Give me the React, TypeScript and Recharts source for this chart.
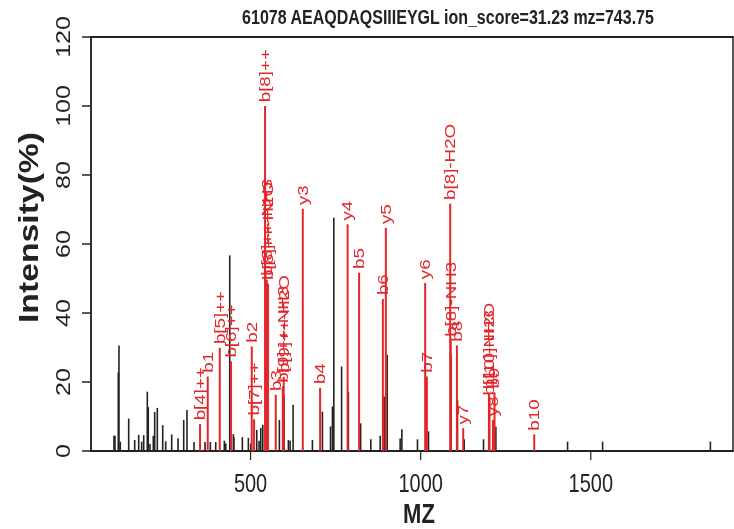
import React from "react";
import {
  ComposedChart,
  XAxis,
  YAxis,
  Scatter,
  ReferenceLine,
  ReferenceArea,
  Label,
} from "recharts";

const TITLE = "61078 AEAQDAQSIIIEYGL ion_score=31.23 mz=743.75";

const xTicks = [500, 1000, 1500];
const yTicks = [0, 20, 40, 60, 80, 100, 120];

// unmatched peaks (drawn black)
const otherMz = [
  98.5, 101.5, 111.2, 113.2, 117.1, 141.8, 159.4, 171.2, 180, 185.9, 196.5,
  199.4, 204.4, 214.1, 218.2, 225.9, 241.8, 250.6, 268.2, 286.8, 303.5, 313.2,
  333.8, 366.2, 381.8, 397.6, 422.9, 427.1, 438.8, 449.4, 451, 475.9, 493.5,
  500.6, 518.2, 525, 530, 535.9, 584.7, 598.5, 611.2, 616.2, 625, 681.8, 711.2,
  735, 740.6, 744.7, 767.6, 787.4, 823.5, 853.5, 880.9, 892.6, 901.5, 939.7,
  944.7, 990.6, 1023, 1089, 1108.2, 1128, 1184.7, 1221, 1431.8, 1534.7, 1851.5,
];
const otherIntensity = [
  4.4, 4.4, 22.8, 30.6, 2.7, 9.4, 3.2, 4.7, 2.7, 4.6, 17.2,
  12.7, 2, 4.4, 11.3, 12.5, 7.5, 2.8, 4.8, 3.7, 9, 11.9,
  2.6, 2.6, 2.6, 2.6, 3, 2.2, 56.7, 4.9, 4, 4, 3.8,
  2.2, 6.1, 3, 6.7, 7.6, 9, 15.8, 3.2, 3, 13.4, 3.2, 11.4,
  7.1, 12.9, 67.6, 24.5, 17.2, 8, 3.4, 4.4, 15.8, 27.9, 3.6,
  6.3, 3.4, 5.7, 27.9, 14.8, 3.4, 3.4, 7, 2.7, 2.7, 2.7,
];

// matched fragment ions (drawn red, labelled)
const ionLabels = [
  "b[4]++", "b1", "b[5]++", "b[6]++", "b2", "b[7]++", "b[8]++", "b[8]++-NH3",
  "b[8]++-H2O", "b3", "b[9]++-NH3", "b[9]++-H2O", "y3", "b4", "y4", "b5", "b6",
  "y5", "y6", "b7", "b[8]-H2O", "b[8]-NH3", "b8", "y7", "b[10]-H2O",
  "b[10]-NH3", "y8", "b9", "b10",
];
const ionMz = [
  351.5, 374.1, 409.4, 442.6, 503.5, 510.3, 542.6, 547.6,
  551.5, 574.1, 594.7, 597.5, 653.5, 704.4, 785.3, 819.1, 888.8,
  897.6, 1013.2, 1018.2, 1086.8, 1088.2, 1106.5, 1125, 1200.6,
  1202.4, 1212.4, 1217, 1333.8,
];
const ionIntensity = [
  7.8, 21.6, 29.9, 26, 30.3, 9.2, 100, 49.7,
  48.5, 16.3, 18.7, 21.5, 70.2, 18.3, 65.7, 51.7, 44.1,
  64.7, 48.7, 21.6, 71.7, 32, 30.6, 6.6, 16.8,
  15, 9, 17, 4.8,
];

const otherPeaks = otherMz.map((mz, i) => ({ mz, intensity: otherIntensity[i] }));
const ionPeaks = ionMz.map((mz, i) => ({
  mz,
  intensity: ionIntensity[i],
  label: ionLabels[i],
}));

const X_MIN = 31;
const X_MAX = 1918;
const STRETCH = 1.25;
const W = 734;
const H = 423;

const FONT = '"Liberation Sans", Arial, Helvetica, sans-serif';
const RED = "#e3262a";
const INK = "#222222";

function IonLabel(props: any) {
  const { cx, cy, payload } = props;
  if (cx == null || cy == null) return null;
  const y = cy - 3;
  return (
    <text
      x={cx}
      y={y}
      transform={`rotate(-90, ${cx}, ${y})`}
      textAnchor="start"
      dominantBaseline="central"
      fontSize={15}
      fontFamily={FONT}
      fill={RED}
    >
      {payload.label}
    </text>
  );
}

function XTick(props: any) {
  const { x, y, payload } = props;
  return (
    <text x={x} y={y + 23.5} textAnchor="middle" fontSize={20} fontFamily={FONT} fill={INK}>
      {payload.value}
    </text>
  );
}

function YTick(props: any) {
  const { x, y, payload } = props;
  const bx = x - 10;
  return (
    <text
      x={bx}
      y={y}
      transform={`rotate(-90, ${bx}, ${y})`}
      textAnchor="middle"
      fontSize={20}
      fontFamily={FONT}
      fill={INK}
    >
      {payload.value}
    </text>
  );
}

export default function App() {
  return (
    <div
      style={{
        position: "absolute",
        left: 0,
        top: 0,
        width: W,
        height: 529,
        overflow: "hidden",
        background: "#fff",
      }}
    >
      <div
        style={{
          position: "relative",
          width: W,
          height: H,
          transform: `scaleY(${STRETCH})`,
          transformOrigin: "0 0",
        }}
      >
        <div
          style={{
            position: "absolute",
            left: 0,
            top: 5,
            width: 896,
            textAlign: "center",
            fontFamily: FONT,
            fontWeight: "bold",
            fontSize: 16,
            color: INK,
            whiteSpace: "nowrap",
            lineHeight: "18px",
          }}
        >
          {TITLE}
        </div>
        <ComposedChart
          width={W}
          height={H}
          margin={{ top: 29.6, right: 1, left: 0, bottom: 22.2 }}
        >
          <XAxis
            type="number"
            dataKey="mz"
            domain={[X_MIN, X_MAX]}
            allowDataOverflow
            ticks={xTicks}
            interval={0}
            height={40}
            axisLine={false}
            tickLine={{ stroke: INK, strokeWidth: 1.2 }}
            tickSize={7.2}
            tickMargin={2}
            tick={<XTick />}
          >
            <Label
              content={() => (
                <text
                  x={419}
                  y={418.4}
                  textAnchor="middle"
                  fontSize={22}
                  fontWeight="bold"
                  fontFamily={FONT}
                  fill={INK}
                >
                  MZ
                </text>
              )}
            />
          </XAxis>
          <YAxis
            type="number"
            domain={[0, 120]}
            ticks={yTicks}
            interval={0}
            width={91}
            axisLine={{ stroke: INK, strokeWidth: 1.5 }}
            tickLine={{ stroke: INK, strokeWidth: 1.2 }}
            tickSize={9}
            tickMargin={2}
            tick={<YTick />}
          >
            <Label
              content={() => (
                <text
                  x={38}
                  y={182}
                  transform="rotate(-90, 38, 182)"
                  textAnchor="middle"
                  fontSize={27}
                  fontWeight="bold"
                  fontFamily={FONT}
                  fill={INK}
                >
                  Intensity(%)
                </text>
              )}
            />
          </YAxis>

          <ReferenceArea
            x1={X_MIN}
            x2={X_MAX}
            y1={0}
            y2={120}
            ifOverflow="visible"
            fill="none"
            stroke={INK}
            strokeWidth={1.5}
          />

          {otherPeaks.map((p, i) => (
            <ReferenceLine
              key={`o${i}`}
              segment={[
                { x: p.mz, y: 0 },
                { x: p.mz, y: p.intensity },
              ]}
              stroke={INK}
              strokeWidth={1.6}
            />
          ))}

          {ionPeaks.map((p, i) => (
            <ReferenceLine
              key={`r${i}`}
              segment={[
                { x: p.mz, y: 0 },
                { x: p.mz, y: p.intensity },
              ]}
              stroke={RED}
              strokeWidth={2}
            />
          ))}

          <Scatter
            data={ionPeaks}
            dataKey="intensity"
            isAnimationActive={false}
            shape={<IonLabel />}
          />
        </ComposedChart>
      </div>
    </div>
  );
}
